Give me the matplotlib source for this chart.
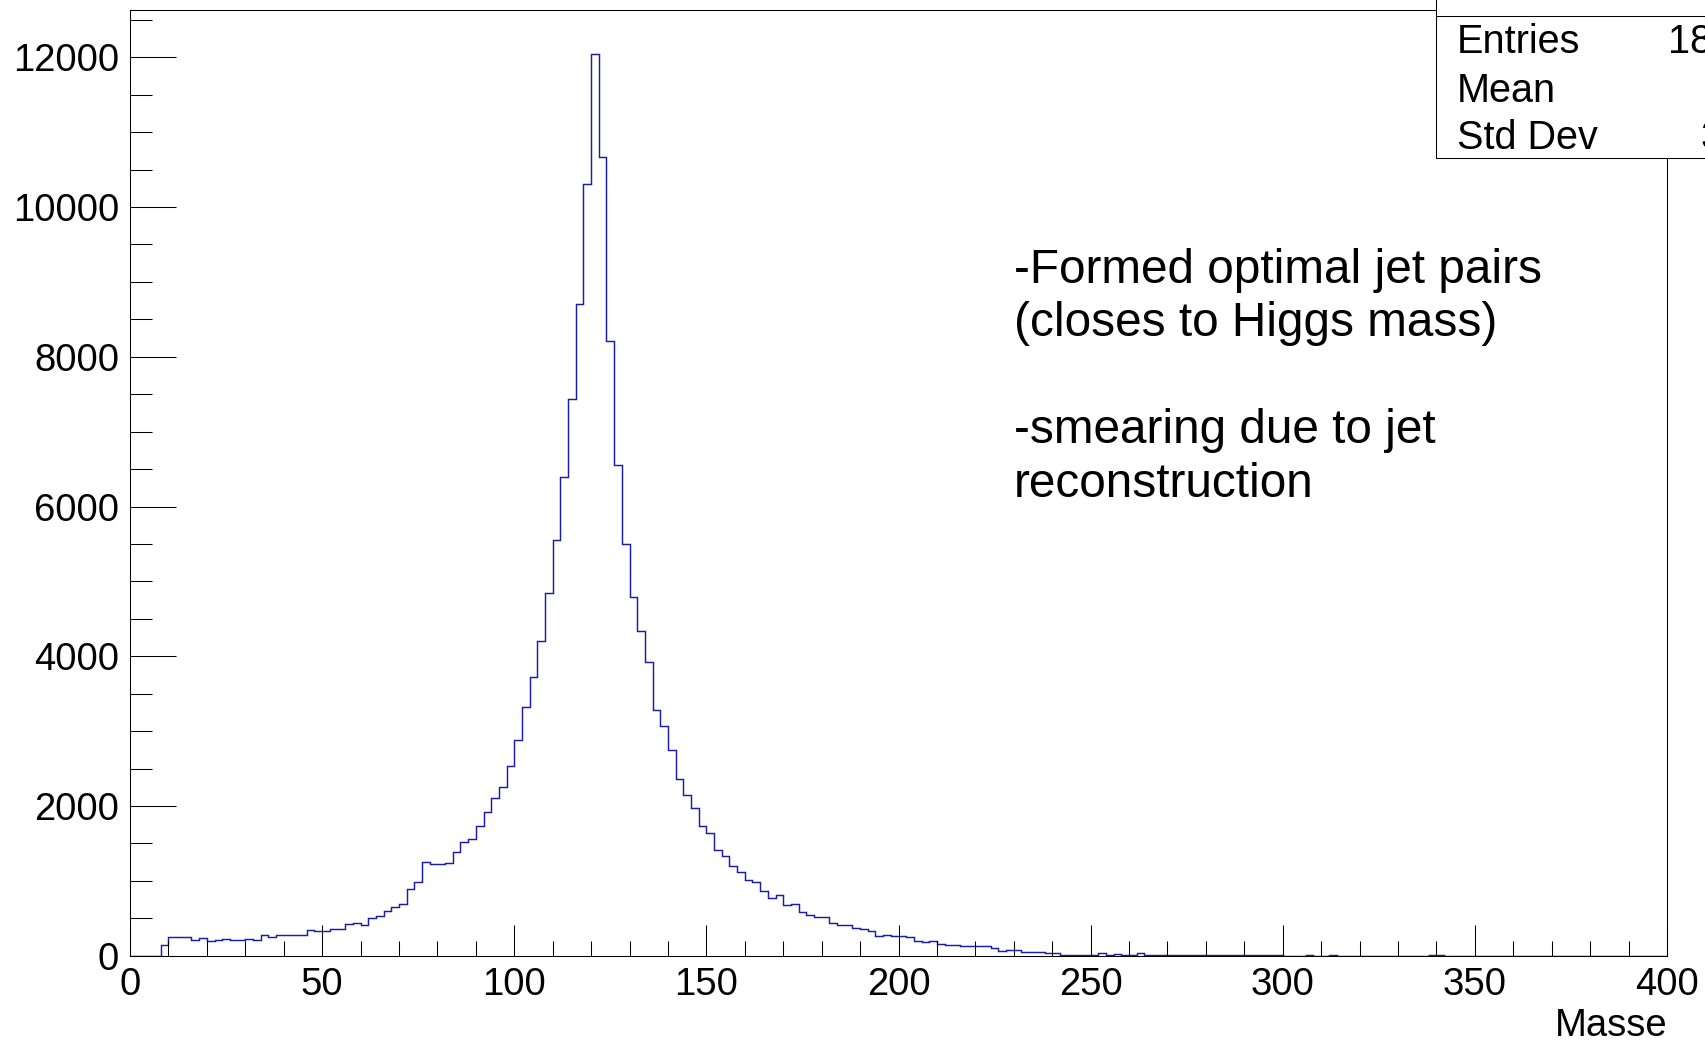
import numpy as np
import matplotlib
matplotlib.use('Agg')
import matplotlib.pyplot as plt
from matplotlib.patches import Rectangle
from matplotlib.lines import Line2D
from matplotlib.ticker import MultipleLocator

# Histogram: 200 bins of width 2 between 0 and 400 (Masse)
bin_edges = np.linspace(0, 400, 201)
counts = [
    0, 0, 0, 0, 147, 250, 250, 248, 214, 232,
    192, 205, 219, 210, 212, 223, 210, 281, 245, 272,
    274, 272, 275, 344, 326, 330, 357, 360, 424, 433,
    415, 504, 536, 598, 652, 696, 888, 991, 1250, 1219,
    1219, 1241, 1379, 1522, 1558, 1737, 1915, 2100, 2260, 2540,
    2880, 3316, 3724, 4204, 4844, 5556, 6390, 7436, 8709, 10303,
    12040, 10672, 8206, 6554, 5498, 4785, 4335, 3927, 3287, 3069,
    2749, 2356, 2153, 1977, 1736, 1634, 1407, 1327, 1198, 1118,
    1015, 984, 864, 775, 806, 672, 695, 583, 548, 521,
    521, 441, 405, 405, 374, 352, 329, 258, 280, 263,
    258, 245, 191, 178, 196, 156, 142, 142, 129, 129,
    125, 125, 107, 62, 80, 80, 49, 49, 49, 36,
    36, 13, 13, 13, 13, 13, 31, 13, 27, 13,
    13, 31, 10, 9, 8, 9, 7, 8, 6, 7,
    6, 5, 6, 5, 4, 5, 4, 4, 3, 5,
    0, 0, 0, 4, 0, 0, 4, 0, 0, 0,
    0, 0, 0, 0, 0, 0, 0, 0, 0, 3,
    3, 0, 0, 0, 0, 0, 0, 0, 0, 0,
    0, 0, 0, 0, 0, 0, 0, 2, 0, 0,
    0, 0, 0, 0, 0, 0, 0, 0, 0, 0,
]
x_ticks = [0, 50, 100, 150, 200, 250, 300, 350, 400]
y_ticks = [0, 2000, 4000, 6000, 8000, 10000, 12000]
note_lines = ['-Formed optimal jet pairs', '(closes to Higgs mass)',
              '-smearing due to jet', 'reconstruction']
stat_labels = ['Entries', 'Mean', 'Std Dev']

counts = np.array(counts, dtype=float)
centres = 0.5 * (bin_edges[:-1] + bin_edges[1:])
entries = int(counts.sum())
mean = (counts * centres).sum() / counts.sum()
std = np.sqrt((counts * (centres - mean) ** 2).sum() / counts.sum())
stat_values = [f'{entries}', f'{mean:.1f}', f'{std:.2f}']

W, H = 1705, 1044
plt.rcParams['font.family'] = ['Liberation Sans', 'DejaVu Sans']


def fx(px):
    return px / W


def fy(py):
    return 1 - py / H


fig = plt.figure(figsize=(W / 100, H / 100), dpi=100)
ax = fig.add_axes([fx(130), fy(955.7), (1667 - 130) / W, (955.7 - 10) / H])

ax.stairs(counts, bin_edges, color='#1c1ca8', linewidth=1.05)

ax.set_xlim(0, 400)
ax.set_ylim(0, 12632)
ax.set_xticks(x_ticks)
ax.set_yticks(y_ticks)
ax.xaxis.set_minor_locator(MultipleLocator(10))
ax.yaxis.set_minor_locator(MultipleLocator(500))
ax.tick_params(axis='x', which='major', direction='in', length=22.3, width=0.75,
               labelsize=27.5, pad=8, top=False)
ax.tick_params(axis='x', which='minor', direction='in', length=10.8, width=0.75, top=False)
ax.tick_params(axis='y', which='major', direction='in', length=33, width=0.75,
               labelsize=27.5, pad=8, right=False)
ax.tick_params(axis='y', which='minor', direction='in', length=16, width=0.75, right=False)
for sp in ax.spines.values():
    sp.set_linewidth(0.75)

ax.set_xlabel('Masse', fontsize=27.5)
ax.xaxis.set_label_coords(1.0, -(1036 - 955.7) / (955.7 - 10))
ax.xaxis.label.set_ha('right')
ax.xaxis.label.set_va('baseline')

# annotation text
for line, base in zip(note_lines, [283, 336, 443, 497]):
    fig.text(fx(1014), fy(base), line, fontsize=34.4, va='baseline')

# stats box (cut off on the right, like the original canvas)
box = Rectangle((fx(1436), fy(158)), 1.0, 0.5, transform=fig.transFigure,
                facecolor='white', edgecolor='black', linewidth=0.75, zorder=10)
fig.add_artist(box)
fig.add_artist(Line2D([fx(1436), 1.0], [fy(15.7), fy(15.7)], color='black',
                      linewidth=0.75, zorder=11))
for lab, val, base in zip(stat_labels, stat_values, [53.3, 101.7, 149.3]):
    fig.text(fx(1457), fy(base), lab, fontsize=28.5, va='baseline', zorder=12)
    fig.text(fx(1800), fy(base), val, fontsize=28.5, va='baseline', ha='right', zorder=12)

fig.savefig('out.png', dpi=100)
